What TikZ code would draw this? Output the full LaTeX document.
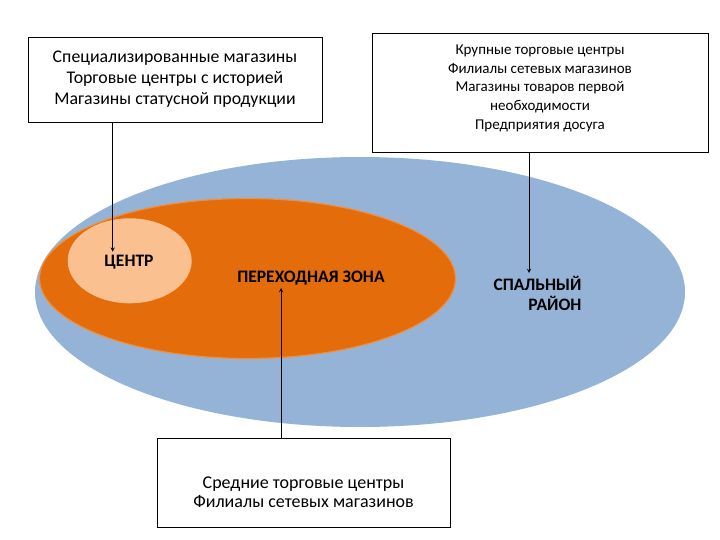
\documentclass[tikz,border=0pt]{standalone}
\usepackage{fontspec}
\setmainfont{Carlito}
\usetikzlibrary{shapes.geometric}
\definecolor{zoneblue}{RGB}{149,179,215}
\definecolor{zoneorange}{RGB}{228,108,10}
\definecolor{zonelight}{RGB}{250,192,144}
\tikzset{
  zone/.style={ellipse,inner sep=0pt},
  infobox/.style={draw,line width=0.8pt,align=center,inner sep=0pt},
  zonelabel/.style={font=\fontsize{17.5}{20}\selectfont\bfseries,inner sep=0pt},
  pointer/.style={->,line width=0.9pt,>=stealth}
}
\begin{document}
\begin{tikzpicture}[x=1pt,y=-1pt]
\useasboundingbox (0,0) rectangle (720,540);
% zones
\node[zone,fill=zoneblue,minimum width=650pt,minimum height=270pt] (outer) at (360,292) {};
\node[zone,fill=zoneorange,draw=zoneorange!75!white,line width=1.2pt,minimum width=416pt,minimum height=160pt] (middle) at (247.5,278.5) {};
\node[zone,fill=zonelight,minimum width=124pt,minimum height=85pt] (core) at (129.7,260.8) {};
\node[zonelabel] (centre) at (129,262.5) {ЦЕНТР};
\node[zonelabel] (transit) at (311,278) {ПЕРЕХОДНАЯ ЗОНА};
\node[zonelabel,align=right] (sleep) at (537.5,293.5) {СПАЛЬНЫЙ\\РАЙОН};
% boxes
\node[infobox,minimum width=294pt,minimum height=85pt,font=\fontsize{17.8}{21}\selectfont] (boxA) at (175,79.5)
  {Специализированные магазины\\Торговые центры с историей\\Магазины статусной продукции};
\node[infobox,minimum width=336pt,minimum height=119pt,font=\fontsize{15}{18.6}\selectfont] (boxB) at (540,92.5)
  {Крупные торговые центры\\Филиалы сетевых магазинов\\Магазины товаров первой\\необходимости\\Предприятия досуга\rule[-11pt]{0pt}{0pt}};
\node[infobox,minimum width=293pt,minimum height=89pt,font=\fontsize{18}{19.5}\selectfont] (boxC) at (303.5,482.5)
  {\rule{0pt}{31pt}Средние торговые центры\\Филиалы сетевых магазинов};
% pointers
\coordinate (tipA) at (112.7,251.7);
\coordinate (tipB) at (529,273);
\coordinate (tipC) at (281,288);
\draw[pointer] (boxA.south -| tipA) -- (tipA);
\draw[pointer] (boxB.south -| tipB) -- (tipB);
\draw[pointer] (boxC.north -| tipC) -- (tipC);
\end{tikzpicture}
\end{document}
